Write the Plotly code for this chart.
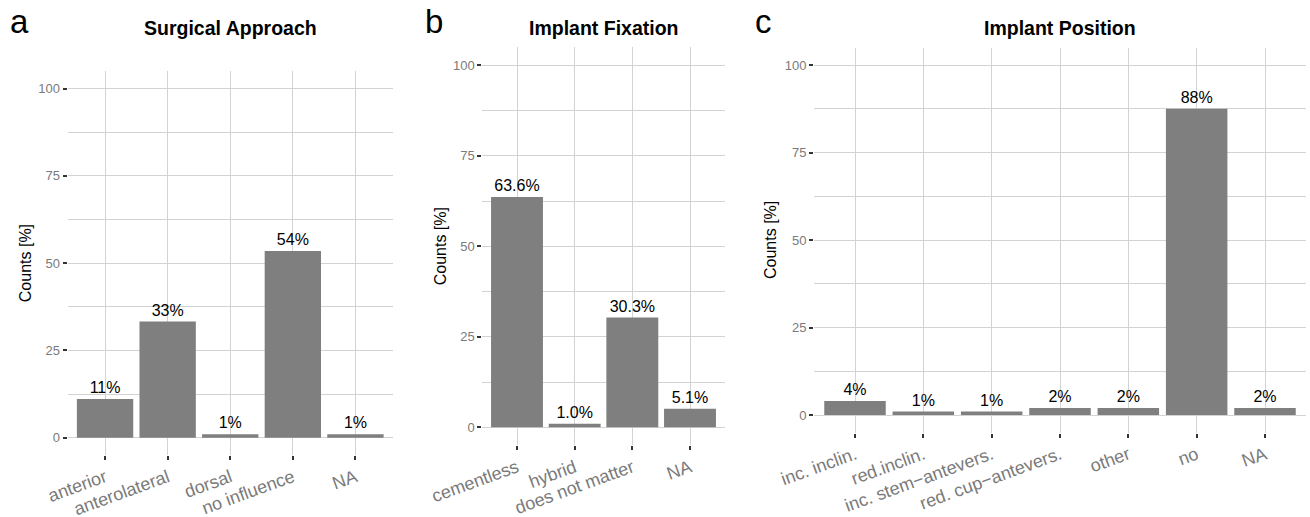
import plotly.graph_objects as go

W, H = 1310, 517

# ---- data ----
approach_cats = ["anterior", "anterolateral", "dorsal", "no influence", "NA"]
approach_vals = [11.1, 33.3, 1.0, 53.5, 1.0]

fixation_cats = ["cementless", "hybrid", "does not matter", "NA"]
fixation_vals = [63.6, 1.0, 30.3, 5.1]

position_cats = ["inc. inclin.", "red.inclin.", "inc. stem\u2212antevers.",
                 "red. cup\u2212antevers.", "other", "no", "NA"]
position_vals = [4.0, 1.0, 1.0, 2.0, 2.0, 87.5, 2.0]

y_ticks = [0, 25, 50, 75, 100]
titles = ["Surgical Approach", "Implant Fixation", "Implant Position"]
panel_letters = ["a", "b", "c"]
y_title = "Counts [%]"

# ---- layout (pixel geometry) ----
FONT = "Liberation Sans, Arial, sans-serif"
BAR = "#7f7f7f"
GRID = "#d3d3d3"
TICKTXT = "#7a7a7a"


def px_x(v):
    return v / W


def px_y(v):
    return 1 - v / H


panels = [
    dict(cats=approach_cats, vals=approach_vals, fmt="%{y:.0f}%",
         x0=67.5, x1=393, top=71.2, bot=455.2, letter_x=8, ytitle_x=25),
    dict(cats=fixation_cats, vals=fixation_vals, fmt="%{y:.1f}%",
         x0=482.4, x1=724.6, top=47.2, bot=445.4, letter_x=423, ytitle_x=440),
    dict(cats=position_cats, vals=position_vals, fmt="%{y:.0f}%",
         x0=814, x1=1306, top=47.5, bot=432.5, letter_x=753, ytitle_x=771),
]

fig = go.Figure()
annotations = []
layout = {}
for i, p in enumerate(panels):
    n = i + 1
    xa = "x" if n == 1 else f"x{n}"
    ya = "y" if n == 1 else f"y{n}"
    fig.add_trace(go.Bar(
        x=p["cats"], y=p["vals"], xaxis=xa, yaxis=ya,
        marker=dict(color=BAR, line=dict(width=0)), width=0.9,
        texttemplate=p["fmt"], textposition="outside", cliponaxis=False,
        textfont=dict(family=FONT, size=16, color="black"),
        showlegend=False, hoverinfo="skip",
    ))
    xkey = "xaxis" if n == 1 else f"xaxis{n}"
    ykey = "yaxis" if n == 1 else f"yaxis{n}"
    layout[xkey] = dict(
        domain=[px_x(p["x0"]), px_x(p["x1"])], anchor=ya, automargin=False,
        type="category", range=[-0.6, len(p["cats"]) - 0.4],
        showgrid=True, gridcolor=GRID, gridwidth=1,
        ticks="outside", ticklen=4, tickwidth=2, tickcolor="#333333",
        tickangle=-20, tickfont=dict(family=FONT, size=18, color=TICKTXT),
        showline=False, zeroline=False, fixedrange=True,
    )
    layout[ykey] = dict(
        domain=[px_y(p["bot"]), px_y(p["top"])], anchor=xa, automargin=False,
        range=[-5, 105], tickvals=y_ticks,
        showgrid=True, gridcolor=GRID, gridwidth=1,
        minor=dict(tick0=0, dtick=12.5, showgrid=True, gridcolor=GRID,
                   gridwidth=1, ticks=""),
        ticks="outside", ticklen=4, tickwidth=2, tickcolor="#333333",
        tickfont=dict(family=FONT, size=13, color=TICKTXT),
        showline=False, zeroline=False, fixedrange=True,
    )
    # panel title
    annotations.append(dict(
        text=titles[i], xref="paper", yref="paper",
        x=px_x((p["x0"] + p["x1"]) / 2), y=px_y(28),
        xanchor="center", yanchor="middle", showarrow=False,
        font=dict(family=FONT, size=19.5, color="black", weight="bold"),
    ))
    # panel letter
    annotations.append(dict(
        text=panel_letters[i], xref="paper", yref="paper",
        x=px_x(p["letter_x"]), y=px_y(21),
        xanchor="left", yanchor="middle", showarrow=False,
        font=dict(family=FONT, size=33, color="black"),
    ))
    # y-axis title
    annotations.append(dict(
        text=y_title, xref="paper", yref="paper",
        x=px_x(p["ytitle_x"]), y=px_y((p["top"] + p["bot"]) / 2),
        xanchor="center", yanchor="middle", showarrow=False, textangle=-90,
        font=dict(family=FONT, size=16, color="black"),
    ))

fig.update_layout(
    width=W, height=H, margin=dict(l=0, r=0, t=0, b=0, autoexpand=False),
    paper_bgcolor="white", plot_bgcolor="white",
    annotations=annotations, **layout,
)

fig.write_html("out.html")
